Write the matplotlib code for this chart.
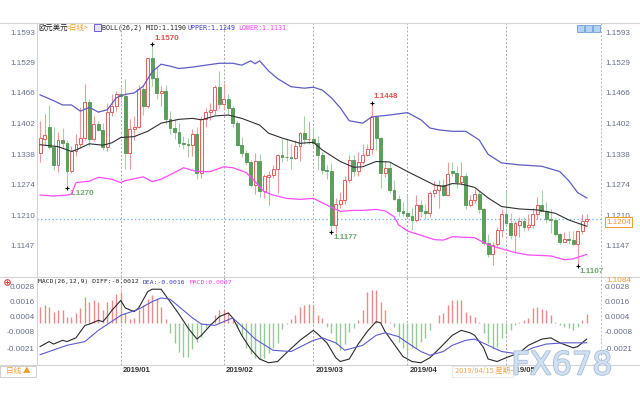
import matplotlib
matplotlib.use('Agg')
import matplotlib.pyplot as plt
from matplotlib.patches import Rectangle
from matplotlib.lines import Line2D
import matplotlib.patheffects as pe
from matplotlib.transforms import blended_transform_factory

# EUR/USD daily, 2018/12/06 .. 2019/05/27 (one entry per trading day)
opens = [1.1343, 1.1372, 1.1397, 1.1356, 1.1318, 1.1370, 1.1364, 1.1306, 1.1346, 1.1362,
         1.1375, 1.1449, 1.1372, 1.1403, 1.1391, 1.1356, 1.1429, 1.1440, 1.1465, 1.1462,
         1.1342, 1.1392, 1.1396, 1.1476, 1.1440, 1.1540, 1.1500, 1.1468, 1.1472, 1.1413,
         1.1394, 1.1387, 1.1364, 1.1362, 1.1360, 1.1383, 1.1301, 1.1414, 1.1429, 1.1432,
         1.1480, 1.1446, 1.1456, 1.1437, 1.1405, 1.1360, 1.1343, 1.1325, 1.1276, 1.1326,
         1.1263, 1.1292, 1.1297, 1.1309, 1.1339, 1.1335, 1.1334, 1.1333, 1.1357, 1.1385,
         1.1371, 1.1372, 1.1364, 1.1339, 1.1307, 1.1306, 1.1193, 1.1236, 1.1245, 1.1287,
         1.1329, 1.1306, 1.1325, 1.1339, 1.1352, 1.1417, 1.1374, 1.1301, 1.1312, 1.1265,
         1.1247, 1.1222, 1.1217, 1.1212, 1.1203, 1.1235, 1.1221, 1.1217, 1.1260, 1.1265,
         1.1276, 1.1255, 1.1305, 1.1302, 1.1283, 1.1295, 1.1234, 1.1244, 1.1257, 1.1226,
         1.1155, 1.1132, 1.1153, 1.1182, 1.1215, 1.1197, 1.1172, 1.1193, 1.1200, 1.1189,
         1.1193, 1.1216, 1.1235, 1.1221, 1.1205, 1.1202, 1.1173, 1.1158, 1.1164, 1.1161,
         1.1152, 1.1180, 1.1200]
highs = [1.1410, 1.1424, 1.1443, 1.1398, 1.1387, 1.1395, 1.1370, 1.1357, 1.1382, 1.1439,
         1.1486, 1.1455, 1.1420, 1.1410, 1.1406, 1.1448, 1.1466, 1.1473, 1.1480, 1.1498,
         1.1413, 1.1420, 1.1484, 1.1484, 1.1542, 1.1570, 1.1522, 1.1483, 1.1484, 1.1430,
         1.1413, 1.1406, 1.1379, 1.1375, 1.1392, 1.1396, 1.1419, 1.1436, 1.1448, 1.1485,
         1.1514, 1.1489, 1.1466, 1.1441, 1.1411, 1.1377, 1.1349, 1.1328, 1.1342, 1.1340,
         1.1298, 1.1306, 1.1318, 1.1340, 1.1371, 1.1372, 1.1361, 1.1370, 1.1387, 1.1419,
         1.1409, 1.1398, 1.1379, 1.1345, 1.1318, 1.1321, 1.1249, 1.1262, 1.1295, 1.1339,
         1.1339, 1.1345, 1.1362, 1.1362, 1.1448, 1.1421, 1.1376, 1.1327, 1.1325, 1.1286,
         1.1256, 1.1240, 1.1255, 1.1227, 1.1255, 1.1245, 1.1237, 1.1263, 1.1284, 1.1287,
         1.1288, 1.1324, 1.1323, 1.1316, 1.1324, 1.1300, 1.1256, 1.1267, 1.1264, 1.1229,
         1.1173, 1.1157, 1.1188, 1.1225, 1.1265, 1.1218, 1.1200, 1.1210, 1.1210, 1.1215,
         1.1227, 1.1251, 1.1265, 1.1241, 1.1225, 1.1208, 1.1175, 1.1177, 1.1180, 1.1180,
         1.1176, 1.1215, 1.1216]
lows = [1.1323, 1.1360, 1.1352, 1.1308, 1.1303, 1.1354, 1.1270, 1.1301, 1.1336, 1.1353,
        1.1370, 1.1358, 1.1368, 1.1388, 1.1348, 1.1346, 1.1420, 1.1430, 1.1455, 1.1310,
        1.1309, 1.1370, 1.1394, 1.1422, 1.1437, 1.1483, 1.1455, 1.1440, 1.1403, 1.1382,
        1.1372, 1.1355, 1.1352, 1.1335, 1.1337, 1.1289, 1.1291, 1.1397, 1.1412, 1.1422,
        1.1436, 1.1433, 1.1422, 1.1397, 1.1357, 1.1335, 1.1318, 1.1272, 1.1257, 1.1250,
        1.1249, 1.1234, 1.1291, 1.1260, 1.1324, 1.1327, 1.1310, 1.1330, 1.1327, 1.1362,
        1.1362, 1.1354, 1.1308, 1.1298, 1.1288, 1.1177, 1.1176, 1.1229, 1.1236, 1.1283,
        1.1295, 1.1294, 1.1320, 1.1337, 1.1340, 1.1348, 1.1269, 1.1293, 1.1260, 1.1245,
        1.1212, 1.1211, 1.1209, 1.1183, 1.1198, 1.1210, 1.1205, 1.1209, 1.1251, 1.1227,
        1.1253, 1.1252, 1.1294, 1.1269, 1.1276, 1.1226, 1.1230, 1.1238, 1.1218, 1.1150,
        1.1125, 1.1110, 1.1145, 1.1168, 1.1188, 1.1163, 1.1135, 1.1167, 1.1180, 1.1183,
        1.1186, 1.1206, 1.1226, 1.1197, 1.1176, 1.1170, 1.1153, 1.1156, 1.1153, 1.1150,
        1.1107, 1.1174, 1.1190]
closes = [1.1374, 1.1381, 1.1356, 1.1318, 1.1370, 1.1364, 1.1306, 1.1346, 1.1362, 1.1375,
          1.1449, 1.1372, 1.1403, 1.1391, 1.1356, 1.1429, 1.1440, 1.1465, 1.1462, 1.1342,
          1.1392, 1.1396, 1.1476, 1.1440, 1.1540, 1.1500, 1.1468, 1.1472, 1.1413, 1.1394,
          1.1387, 1.1364, 1.1362, 1.1360, 1.1383, 1.1301, 1.1414, 1.1429, 1.1432, 1.1480,
          1.1446, 1.1456, 1.1437, 1.1405, 1.1360, 1.1343, 1.1325, 1.1276, 1.1326, 1.1263,
          1.1295, 1.1297, 1.1309, 1.1339, 1.1335, 1.1334, 1.1333, 1.1357, 1.1385, 1.1371,
          1.1372, 1.1364, 1.1339, 1.1307, 1.1306, 1.1193, 1.1236, 1.1245, 1.1287, 1.1329,
          1.1306, 1.1325, 1.1339, 1.1352, 1.1417, 1.1374, 1.1301, 1.1312, 1.1265, 1.1247,
          1.1222, 1.1217, 1.1212, 1.1203, 1.1235, 1.1221, 1.1217, 1.1260, 1.1265, 1.1276,
          1.1255, 1.1298, 1.1302, 1.1283, 1.1295, 1.1234, 1.1244, 1.1257, 1.1226, 1.1155,
          1.1132, 1.1150, 1.1182, 1.1215, 1.1197, 1.1172, 1.1197, 1.1200, 1.1189, 1.1193,
          1.1216, 1.1234, 1.1221, 1.1205, 1.1202, 1.1173, 1.1158, 1.1164, 1.1161, 1.1152,
          1.1180, 1.1200, 1.1204]

# BOLL(26,2) at these candle positions
upper_idx = [0, 3, 5, 7, 9, 11, 13, 15, 17, 19, 21, 23, 25, 27, 29, 31, 34, 37, 40, 43,
             45, 47, 48, 49, 51, 53, 56, 59, 61, 63, 65, 67, 69, 72, 74, 78, 82, 85, 87, 89,
             92, 95, 98, 100, 103, 107, 112, 116, 118, 120, 122]
upper = [1.1464, 1.1452, 1.1443, 1.1443, 1.1430, 1.1438, 1.1428, 1.1433, 1.1458, 1.1465,
         1.1468, 1.1482, 1.1512, 1.1528, 1.1524, 1.1519, 1.1522, 1.1526, 1.1530, 1.1530,
         1.1526, 1.1535, 1.1529, 1.1535, 1.1514, 1.1498, 1.1481, 1.1478, 1.1480, 1.1474,
         1.1458, 1.1437, 1.1410, 1.1405, 1.1418, 1.1422, 1.1427, 1.1412, 1.1395, 1.1391,
         1.1388, 1.1388, 1.1370, 1.1340, 1.1322, 1.1318, 1.1315, 1.1304, 1.1285, 1.1260,
         1.1249]
mid_idx = [0, 4, 7, 8, 11, 14, 16, 18, 21, 24, 27, 31, 34, 36, 39, 42, 45, 47, 49, 51,
           54, 58, 61, 63, 67, 70, 72, 75, 78, 82, 85, 88, 90, 92, 94, 97, 100, 103, 107, 111,
           115, 118, 122]
mid = [1.1360, 1.1356, 1.1346, 1.1349, 1.1362, 1.1359, 1.1364, 1.1375, 1.1377, 1.1388,
       1.1405, 1.1413, 1.1415, 1.1412, 1.1420, 1.1422, 1.1415, 1.1408, 1.1401, 1.1384,
       1.1374, 1.1363, 1.1365, 1.1349, 1.1325, 1.1313, 1.1314, 1.1325, 1.1324, 1.1304,
       1.1290, 1.1276, 1.1273, 1.1279, 1.1278, 1.1271, 1.1249, 1.1231, 1.1226, 1.1224,
       1.1217, 1.1203, 1.1190]
lower_idx = [0, 3, 6, 7, 8, 11, 13, 16, 18, 19, 23, 25, 27, 30, 32, 35, 38, 41, 43, 46,
             48, 50, 52, 55, 58, 61, 64, 67, 70, 72, 75, 77, 79, 80, 82, 85, 88, 90, 92, 97,
             100, 103, 106, 109, 114, 117, 119, 122]
lower = [1.1255, 1.1253, 1.1255, 1.1257, 1.1281, 1.1284, 1.1292, 1.1288, 1.1281, 1.1285,
         1.1293, 1.1283, 1.1288, 1.1302, 1.1312, 1.1304, 1.1304, 1.1314, 1.1312, 1.1302,
         1.1283, 1.1262, 1.1255, 1.1248, 1.1246, 1.1248, 1.1234, 1.1221, 1.1223, 1.1223,
         1.1225, 1.1222, 1.1210, 1.1193, 1.1180, 1.1171, 1.1162, 1.1161, 1.1168, 1.1166,
         1.1151, 1.1143, 1.1135, 1.1130, 1.1128, 1.1120, 1.1122, 1.1131]

# MACD(26,12,9)
diff_idx = [0, 2, 3, 5, 6, 8, 10, 11, 13, 14, 15, 16, 18, 19, 21, 22, 24, 25, 27, 28,
            31, 33, 35, 36, 38, 40, 42, 43, 45, 47, 49, 51, 53, 55, 58, 61, 62, 64, 66, 67,
            69, 71, 73, 75, 76, 77, 80, 81, 83, 85, 87, 89, 92, 94, 96, 97, 99, 100, 102, 104,
            107, 109, 112, 114, 116, 119, 120, 122]
diff = [-0.0019, -0.0015, -0.0017, -0.0014, -0.0015, -0.0012, -0.0002, -0.0001, 0.0002, 0.0001,
        0.0005, 0.0010, 0.0018, 0.0012, 0.0009, 0.0012, 0.0025, 0.0027, 0.0027, 0.0022,
        0.0007, -0.0004, -0.0013, -0.0010, -0.0002, 0.0005, 0.0008, 0.0004, -0.0010, -0.0021,
        -0.0029, -0.0032, -0.0031, -0.0024, -0.0014, -0.0006, -0.0009, -0.0016, -0.0028, -0.0031,
        -0.0029, -0.0017, -0.0007, 0.0001, 0.0000, -0.0007, -0.0022, -0.0027, -0.0031, -0.0032,
        -0.0028, -0.0021, -0.0010, -0.0006, -0.0008, -0.0010, -0.0020, -0.0029, -0.0031, -0.0028,
        -0.0024, -0.0018, -0.0013, -0.0012, -0.0016, -0.0020, -0.0019, -0.0013]
dea_idx = [0, 6, 10, 13, 18, 22, 25, 27, 29, 31, 34, 36, 39, 41, 43, 46, 48, 52, 56, 61,
           63, 66, 68, 72, 75, 77, 80, 82, 85, 87, 90, 92, 95, 97, 100, 103, 107, 110, 113, 117,
           122]
dea = [-0.00255, -0.0018, -0.0015, -0.0006, 0.0006, 0.0011, 0.0017, 0.0020, 0.0019, 0.0013,
       0.0004, -0.0001, -0.0002, 0.0001, 0.0004, -0.0006, -0.0013, -0.0022, -0.0023, -0.0014,
       -0.0012, -0.0016, -0.0022, -0.0018, -0.0010, -0.0008, -0.0011, -0.0016, -0.0023, -0.0026,
       -0.0023, -0.0018, -0.0014, -0.0013, -0.0018, -0.0023, -0.0025, -0.0020, -0.0017, -0.0016,
       -0.0016]
# MACD histogram per candle, in units of 0.0001
hist = [13, 14, 13, 9, 10, 10, 5, 5, 8, 12,
        21, 17, 18, 17, 10, 17, 18, 23, 25, 8,
        3, 4, 10, 14, 19, 22, 20, 13, 3, -8,
        -16, -23, -27, -27, -21, -15, -11, -4, -1, 6,
        10, 10, 8, 2, -4, -10, -20, -25, -28, -29,
        -28, -24, -20, -16, -5, -1, 3, 6, 13, 14,
        15, 14, 6, 4, -3, -8, -17, -22, -17, -7,
        -4, 2, 10, 25, 26, 26, 17, 10, 1, -3,
        -15, -20, -26, -20, -20, -15, -12, -6, 0, 6,
        8, 14, 18, 18, 18, 9, 6, 5, 1, -8,
        -16, -21, -19, -12, -8, -6, -2, 1, 2, 4,
        12, 13, 11, 10, 6, 1, -2, -3, -4, -6,
        -3, 2, 7]

month_idx = [18, 41, 61, 82, 104]
month_labels = ['2019/01', '2019/02', '2019/03', '2019/04', '2019/05']
price_ticks = [1.1593, 1.1529, 1.1466, 1.1402, 1.1338, 1.1274, 1.1210, 1.1147]
macd_ticks = [0.0028, 0.0016, 0.0004, -0.0008, -0.0021]
peak_idx = [25, 74]
trough_idx = [6, 65, 120]

W, H = 640, 400
fig = plt.figure(figsize=(6.4, 4.0), dpi=100)


def fx(x):
    return x / W


def fy(y):
    return 1 - y / H


cjk = ['Noto Sans CJK SC', 'DejaVu Sans']
mono = 'DejaVu Sans Mono'
lab = 'Liberation Sans'
axis_col = '#66708e'
orange = '#f39a2a'

ax = fig.add_axes([fx(37), fy(277), (601 - 37) / W, (277 - 23) / H])
ax2 = fig.add_axes([fx(37), fy(365), (601 - 37) / W, (365 - 277) / H])
for a in (ax, ax2):
    a.set_xlim(-0.7, 125.2)
    a.set_xticks([])
    a.set_yticks([])
    for s in a.spines.values():
        s.set_visible(False)
    for m in month_idx:
        a.axvline(m, color='#a8a8a8', lw=0.7, ls=(0, (2, 2)), zorder=0)
ax.set_ylim(1.1084, 1.1614)
ax2.set_ylim(-0.00338, 0.00368)

# candles
n = len(closes)
xs = list(range(n))
up = [c >= o for o, c in zip(opens, closes)]
ax.vlines(xs, lows, highs, colors=['#ee9a9a' if u else '#a6d1a6' for u in up], lw=0.8, zorder=2)
bottoms = [min(o, c) for o, c in zip(opens, closes)]
heights = [max(abs(c - o), 0.00004) for o, c in zip(opens, closes)]
ax.bar(xs, heights, bottom=bottoms, width=0.64,
       color=['#fffafa' if u else '#5c9f5c' for u in up],
       edgecolor=['#e35f5f' if u else '#5c9f5c' for u in up], linewidth=0.7, zorder=3)

# bollinger
ax.plot(upper_idx, upper, color='#5d5dc6', lw=0.9, zorder=4)
ax.plot(mid_idx, mid, color='#303030', lw=0.8, zorder=4)
ax.plot(lower_idx, lower, color='#ff4cff', lw=0.9, zorder=4)

# last price line
ax.axhline(closes[-1], color='#5fb0f5', lw=0.9, ls=(0, (1, 2)), zorder=1)

# high / low marks
for i in peak_idx:
    ax.plot(i, highs[i], marker='+', color='black', ms=3.5, mew=0.8, zorder=5)
    ax.annotate(f'{highs[i]:.4f}', (i, highs[i]), xytext=(1.5, 4), textcoords='offset points',
                ha='left', va='center', fontsize=5.8, color='#e65050', family=lab, weight='bold')
for i in trough_idx:
    ax.plot(i, lows[i], marker='+', color='black', ms=3.5, mew=0.8, zorder=5)
    ax.annotate(f'{lows[i]:.4f}', (i, lows[i]), xytext=(1.5, -4), textcoords='offset points',
                ha='left', va='center', fontsize=5.8, color='#6aa86a', family=lab, weight='bold')

# macd
hist_vals = [h * 0.0001 for h in hist]
ax2.vlines(xs, 0, hist_vals, colors=['#ec8a8a' if h > 0 else '#96c996' for h in hist], lw=1.0, zorder=2)
ax2.plot(diff_idx, diff, color='#2a2a2a', lw=0.8, zorder=3)
ax2.plot(dea_idx, dea, color='#5b5bd0', lw=0.8, zorder=3)

# axis labels on both sides
tr = blended_transform_factory(fig.transFigure, ax.transData)
for t in price_ticks:
    fig.text(fx(35), t, f'{t:.4f}', transform=tr, ha='right', va='center', fontsize=5.9,
             color=axis_col, family=lab)
    fig.text(fx(605), t, f'{t:.4f}', transform=tr, ha='left', va='center', fontsize=5.9,
             color=axis_col, family=lab)
tr2 = blended_transform_factory(fig.transFigure, ax2.transData)
for t in macd_ticks:
    fig.text(fx(35), t, f'{t:.4f}', transform=tr2, ha='right', va='center', fontsize=5.9,
             color=axis_col, family=lab)
    fig.text(fx(605), t, f'{t:.4f}', transform=tr2, ha='left', va='center', fontsize=5.9,
             color=axis_col, family=lab)

trx = blended_transform_factory(ax2.transData, fig.transFigure)
for m, lbl in zip(month_idx, month_labels):
    fig.text(m + 0.4, fy(371), lbl, transform=trx, ha='left', va='center', fontsize=5.6,
             color='#333333', family=lab, weight='bold')

# frame lines
for y in (23, 277, 365):
    fig.add_artist(Line2D([0, 1], [fy(y), fy(y)], color='#d4d4d4', lw=0.8))
fig.add_artist(Line2D([fx(37), fx(37)], [fy(23), fy(365)], color='#d4d4d4', lw=0.8))
fig.add_artist(Line2D([fx(601), fx(601)], [fy(23), fy(365)], color='#bdbdbd', lw=0.7, ls=(0, (2, 2))))

# titles
ty = fy(28)
fig.text(fx(38), ty, '欧元美元', ha='left', va='center', fontsize=5.3, family=cjk, color='#222222')
fig.text(fx(66), ty, '<日线>', ha='left', va='center', fontsize=5.3, family=cjk, color=orange)
fig.add_artist(Rectangle((fx(94), fy(31)), 7 / W, 7 / H, facecolor='#e8e4ff', edgecolor='#6a5acd', lw=0.7))
fig.text(fx(102), ty, 'BOLL(26,2) MID:1.1190', ha='left', va='center', fontsize=4.8, family=mono, color='#222222')
fig.text(fx(187), ty, 'UPPER:1.1249', ha='left', va='center', fontsize=4.8, family=mono, color='#3c3cc0')
fig.text(fx(238), ty, 'LOWER:1.1131', ha='left', va='center', fontsize=4.8, family=mono, color='#ff3cff')
for x0 in (577, 585, 593):
    fig.add_artist(Rectangle((fx(x0), fy(32)), 7 / W, 7 / H, facecolor='#b4d2f2', edgecolor='#6f9fd8', lw=0.6))

my = fy(282)
fig.add_artist(Line2D([fx(7)], [my], marker='o', ms=4, mfc='none', mec='#e04040', mew=0.8))
fig.add_artist(Line2D([fx(7)], [my], marker='+', ms=3, mec='#e04040', mew=0.7))
fig.text(fx(38), my, 'MACD(26,12,9) DIFF:-0.0012', ha='left', va='center', fontsize=4.6, family=mono, color='#222222')
fig.text(fx(143), my, 'DEA:-0.0016', ha='left', va='center', fontsize=4.6, family=mono, color='#3c3cc0')
fig.text(fx(190), my, 'MACD:0.0007', ha='left', va='center', fontsize=4.6, family=mono, color='#ff3cff')

# right side price boxes
fig.text(fx(606), fy(222), f'{closes[-1]:.4f}', ha='left', va='center', fontsize=5.9, family=lab,
         color=orange, bbox=dict(boxstyle='square,pad=0.15', fc='white', ec=orange, lw=0.7))
fig.text(fx(606), fy(281), '1.1084', ha='left', va='center', fontsize=5.9, family=lab, color=orange)

# bottom-left period box and cursor date
fig.add_artist(Rectangle((0, fy(377)), 36 / W, 11 / H, facecolor='white', edgecolor='#d0d0d0', lw=0.7))
fig.text(fx(18), fy(371.5), '日线 ▲', ha='center', va='center', fontsize=5.5, family=cjk, color=orange)
fig.add_artist(Rectangle((fx(452), fy(377)), 61 / W, 11 / H, facecolor='white', edgecolor='#e6e6e6', lw=0.6, zorder=5))
fig.text(fx(455), fy(371), '2019/04/15 星期一', ha='left', va='center', fontsize=5.3, family=cjk,
         color='#f5a44a', zorder=6)

# watermark
fig.text(fx(562), fy(366), 'FX678', ha='center', va='center', fontsize=23, family='DejaVu Sans',
         color='#cfe0f3', zorder=7,
         path_effects=[pe.withStroke(linewidth=1.2, foreground='#a9bdd3')])

fig.savefig('out.png', dpi=100, facecolor='white')
